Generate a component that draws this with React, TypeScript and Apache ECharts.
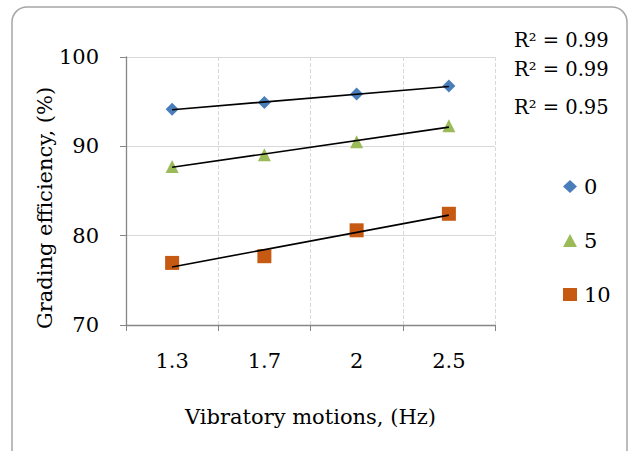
import React, { useEffect, useRef } from "react";
import * as echarts from "echarts";

const categories = ["1.3", "1.7", "2", "2.5"];
const seriesNames = ["0", "5", "10"];
const values0 = [94.15, 94.9, 95.85, 96.75];
const values5 = [87.75, 89.05, 90.5, 92.3];
const values10 = [76.95, 77.7, 80.6, 82.45];
// trendline endpoints (at 1.3 and 2.5)
const trend0 = [94.1, 96.7];
const trend5 = [87.65, 92.15];
const trend10 = [76.5, 82.3];
const r2Labels = ["R² = 0.99", "R² = 0.99", "R² = 0.95"];

const FONT = "DejaVu Serif";

export default function App() {
  const ref = useRef<HTMLDivElement>(null);
  useEffect(() => {
    if (!ref.current) return;
    const chart = echarts.init(ref.current, null, { renderer: "svg" });
    const colors = ["#4A7EBB", "#9BBB59", "#C65A12"];
    const symbols = ["diamond", "triangle", "rect"];
    const sizes = [13, 13, 14];
    const vals = [values0, values5, values10];
    const trends = [trend0, trend5, trend10];
    const series: any[] = [];
    vals.forEach((v, i) => {
      series.push({
        name: seriesNames[i],
        type: "line",
        data: v,
        symbol: symbols[i],
        symbolSize: sizes[i],
        showSymbol: true,
        lineStyle: { width: 0, opacity: 0 },
        itemStyle: { color: colors[i] },
        z: 3,
      });
    });
    trends.forEach((t) => {
      series.push({
        type: "line",
        data: [
          [0, t[0]],
          [categories.length - 1, t[1]],
        ],
        symbol: "none",
        lineStyle: { color: "#000", width: 1.6 },
        z: 4,
        silent: true,
      });
    });
    chart.setOption({
      animation: false,
      grid: { left: 126, right: 135, top: 57, bottom: 126 },
      xAxis: {
        type: "category",
        data: categories,
        boundaryGap: true,
        axisLine: { lineStyle: { color: "#868686", width: 1.3 } },
        axisTick: { show: true, length: 6, lineStyle: { color: "#868686" } },
        axisLabel: { fontFamily: FONT, fontSize: 21, color: "#000", margin: 25 },
        splitLine: { show: true, lineStyle: { color: "#d9d9d9", type: "dashed" } },
        name: "Vibratory motions, (Hz)",
        nameLocation: "middle",
        nameGap: 81,
        nameTextStyle: { fontFamily: FONT, fontSize: 21, color: "#000" },
      },
      yAxis: {
        type: "value",
        min: 70,
        max: 100,
        interval: 10,
        axisLine: { show: true, lineStyle: { color: "#868686", width: 1.3 } },
        axisTick: { show: true, length: 6, lineStyle: { color: "#868686" } },
        axisLabel: { fontFamily: FONT, fontSize: 21, color: "#000", margin: 27 },
        splitLine: { show: true, lineStyle: { color: "#d9d9d9" } },
      },
      legend: {
        data: seriesNames.map((n, i) => ({ name: n, icon: symbols[i] })),
        orient: "vertical",
        left: 558,
        top: 171,
        itemGap: 33,
        itemWidth: 14,
        itemHeight: 13,
        textStyle: { fontFamily: FONT, fontSize: 21, color: "#000", padding: [0, 0, 0, 2] },
      },
      graphic: [
        {
          type: "rect",
          shape: { x: 12, y: 7, width: 615, height: 470, r: 15 },
          style: { fill: "none", stroke: "#a6a6a6", lineWidth: 1.5 },
          silent: true,
        },
        {
          type: "text",
          x: 45,
          y: 208,
          rotation: Math.PI / 2,
          style: {
            text: "Grading efficiency, (%)",
            fontFamily: FONT,
            fontSize: 21,
            fill: "#000",
            align: "center",
            verticalAlign: "middle",
          },
        },
        ...r2Labels.map((t, i) => ({
          type: "text",
          x: 514,
          y: [40, 69, 107][i],
          style: {
            text: t,
            fontFamily: FONT,
            fontSize: 19.5,
            fill: "#000",
            align: "left",
            verticalAlign: "middle",
          },
        })),
      ],
      series,
    });
    return () => chart.dispose();
  }, []);
  return (
    <div
      ref={ref}
      style={{ position: "fixed", left: 0, top: 0, width: 630, height: 451, background: "#fff" }}
    />
  );
}
